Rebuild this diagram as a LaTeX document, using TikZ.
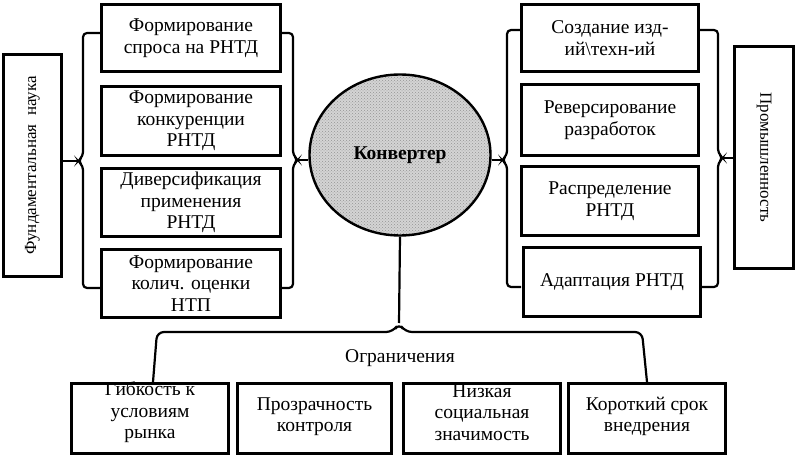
\documentclass[tikz,border=0pt]{standalone}
\usepackage{fontspec}
\setmainfont{Liberation Serif}
\usetikzlibrary{shapes.geometric,patterns}
\begin{document}
\begin{tikzpicture}[x=1pt,y=-1pt,
  box/.style={draw, line width=3.2pt, align=center, inner sep=0pt, font=\fontsize{19.5}{21.5}\selectfont},
  txt/.style={align=center, inner sep=0pt, font=\fontsize{19.5}{21.5}\selectfont},
  sidetxt/.style={align=center, inner sep=0pt, font=\fontsize{17}{20}\selectfont},
  brace/.style={line width=2.2pt, rounded corners=4pt},
  conn/.style={line width=2.2pt}]
\useasboundingbox (0,0) rectangle (798,457);
% side boxes
\node[box, minimum width=58, minimum height=222] (fund) at (32.5,165.5) {};
\node[sidetxt, rotate=90] (fundt) at (fund.center) {Фундаментальная\ \ наука};
\node[box, minimum width=59, minimum height=222] (prom) at (764,157.5) {};
\node[sidetxt, rotate=-90] (promt) at (prom.center) {Промышленность};
% left column
\node[box, minimum width=179, minimum height=67] (l1) at (191,38) {Формирование\\спроса на РНТД};
\node[box, minimum width=179, minimum height=69] (l2) at (191,121) {Формирование\\конкуренции\\РНТД};
\node[box, minimum width=179, minimum height=68] (l3) at (191,202.5) {Диверсификация\\применения\\РНТД};
\node[box, minimum width=179, minimum height=68] (l4) at (191,283.5) {Формирование\\колич. оценки\\НТП};
% right column
\node[box, minimum width=177, minimum height=67] (r1) at (610,38) {Создание изд-\\ий\textbackslash техн-ий};
\node[box, minimum width=177, minimum height=71] (r2) at (610,120) {Реверсирование\\разработок};
\node[box, minimum width=177, minimum height=69] (r3) at (610,201) {Распределение\\РНТД};
\node[box, minimum width=177, minimum height=69] (r4) at (612,282) {Адаптация РНТД};
% converter
\node[ellipse, draw, line width=2.4pt, minimum width=181, minimum height=161,
  preaction={fill=black!17}, pattern=crosshatch dots, pattern color=black!42] (conv) at (400,155) {};
\node[font=\fontsize{19.5}{21.5}\selectfont\bfseries, inner sep=1pt] (convt) at (conv.center) {Конвертер};
% bottom boxes
\node[box, minimum width=157, minimum height=70] (b1) at (150,418.5) {};
\node[box, minimum width=154, minimum height=70] (b2) at (314.5,418.5) {};
\node[box, minimum width=157, minimum height=70] (b3) at (482,418.5) {};
\node[box, minimum width=157, minimum height=70] (b4) at (647,418.5) {};
\node[txt] (b1t) at ([yshift=6pt]b1.center) {Гибкость к\\условиям\\рынка};
\node[txt] (b2t) at ([yshift=2pt]b2.center) {Прозрачность\\контроля};
\node[txt] (b3t) at ([yshift=6pt]b3.center) {Низкая\\социальная\\значимость};
\node[txt] (b4t) at ([yshift=2pt]b4.center) {Короткий срок\\внедрения};
\node[txt] (lim) at (400,358) {Ограничения};
% braces
\coordinate (tl) at (78,161);
\coordinate (tr) at (298,160);
\coordinate (tl2) at (502,160);
\coordinate (tr2) at (723,158);
\coordinate (tb) at (399,323);
\draw[brace] (100,33) -- (83,33) -- (83,156) -- (tl) -- (83,166) -- (83,288) -- (100,288);
\draw[brace] (282,33) -- (293,33) -- (293,155) -- (tr) -- (293,165) -- (293,288) -- (282,288);
\draw[brace] (520,30) -- (507,30) -- (507,155) -- (tl2) -- (507,165) -- (507,287) -- (521,287);
\draw[brace] (700,30) -- (718,30) -- (718,153) -- (tr2) -- (718,163) -- (718,287) -- (702,287);
\draw[brace, rounded corners=7pt] (153,382) -- (157,332) -- (393,332) -- (tb) -- (405,332) -- (642,332) -- (647,382);
% connectors
\draw[conn] (tl) -- (tl -| fund.east);
\draw[conn] (tr) -- (tr -| conv.west);
\draw[conn] (tl2) -- (tl2 -| conv.east);
\draw[conn] (tr2) -- (tr2 -| prom.west);
\draw[conn] (conv.south) -- (tb);
\end{tikzpicture}
\end{document}
